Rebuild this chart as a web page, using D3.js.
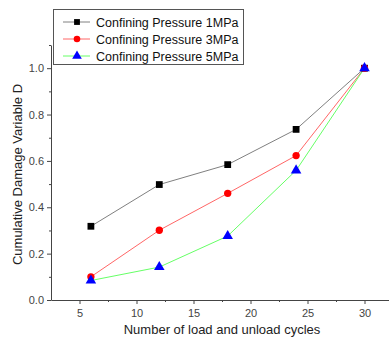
<!DOCTYPE html>
<html>
<head>
<meta charset="utf-8">
<script src="https://cdn.jsdelivr.net/npm/d3@7/dist/d3.min.js"></script>
<style>
  html, body { margin: 0; padding: 0; background: #fff; }
  svg { display: block; font-family: "Liberation Sans", Arial, sans-serif; }
</style>
</head>
<body>
<div id="chart"></div>
<script>
// Load/unload cycle counts and cumulative damage for each confining pressure
const cycles = [6, 12, 18, 24, 30];
const damage1MPa = [0.318, 0.498, 0.584, 0.736, 1.0];
const damage3MPa = [0.100, 0.301, 0.460, 0.623, 1.0];
const damage5MPa = [0.084, 0.142, 0.276, 0.559, 1.0];
const seriesNames = ["Confining Pressure 1MPa", "Confining Pressure 3MPa", "Confining Pressure 5MPa"];
const xTicks = [5, 10, 15, 20, 25, 30];
const yTicks = [0.0, 0.2, 0.4, 0.6, 0.8, 1.0];

const W = 389, H = 342;
const margin = { left: 51, top: 45, bottom: 42 };

const series = [
  { name: seriesNames[0], values: damage1MPa, line: "#808080", fill: "#000000", shape: d3.symbolSquare },
  { name: seriesNames[1], values: damage3MPa, line: "#ff6666", fill: "#ff0000", shape: d3.symbolCircle },
  { name: seriesNames[2], values: damage5MPa, line: "#66ff66", fill: "#0000ff", shape: d3.symbolTriangle }
];

const svg = d3.select("#chart").append("svg").attr("width", W).attr("height", H);

const x = d3.scaleLinear().domain([2.5, 32.5]).range([margin.left, margin.left + 57 * 6]);
const y = d3.scaleLinear().domain([0, 1.1]).range([H - margin.bottom, margin.top]);

const axisColor = "#444";

// Bottom axis with major and minor ticks
const xAxisG = svg.append("g").attr("transform", `translate(0,${y(0)})`);
xAxisG.call(d3.axisBottom(x).tickValues(xTicks).tickSize(4).tickSizeOuter(0).tickFormat(d3.format("d")));
xAxisG.append("g").call(d3.axisBottom(x).tickValues([7.5, 12.5, 17.5, 22.5, 27.5]).tickSize(2).tickSizeOuter(0).tickFormat(""))
  .select(".domain").remove();

// Left axis with major and minor ticks
const yAxisG = svg.append("g").attr("transform", `translate(${x(2.5)},0)`);
yAxisG.call(d3.axisLeft(y).tickValues(yTicks).tickSize(4).tickSizeOuter(0).tickFormat(d3.format(".1f")));
yAxisG.append("g").call(d3.axisLeft(y).tickValues([0.1, 0.3, 0.5, 0.7, 0.9, 1.1]).tickSize(2).tickSizeOuter(0).tickFormat(""))
  .select(".domain").remove();

svg.selectAll(".domain, .tick line").attr("stroke", axisColor).attr("stroke-width", 1);
svg.selectAll(".tick text").attr("fill", "#444").style("font-size", "11px").style("font-family", "Liberation Sans, Arial, sans-serif");
xAxisG.selectAll(".tick text").attr("dy", "0.9em");

// Axis titles
svg.append("text")
  .attr("x", 222).attr("y", 334)
  .attr("text-anchor", "middle")
  .attr("fill", "#222")
  .style("font-size", "13px")
  .text("Number of load and unload cycles");

svg.append("text")
  .attr("transform", `translate(22,${(y(0) + y(1.1)) / 2 + 2}) rotate(-90)`)
  .attr("text-anchor", "middle")
  .attr("fill", "#222")
  .style("font-size", "13px")
  .text("Cumulative Damage Variable D");

// Series lines and markers
const lineGen = d3.line().x((d, i) => x(cycles[i])).y(d => y(d));
series.forEach(s => {
  svg.append("path")
    .attr("d", lineGen(s.values))
    .attr("fill", "none")
    .attr("stroke", s.line)
    .attr("stroke-width", 1);
});
series.forEach(s => {
  svg.selectAll(null).data(s.values).enter().append("path")
    .attr("d", d3.symbol().type(s.shape).size(s.shape === d3.symbolTriangle ? 48 : (s.shape === d3.symbolCircle ? 42 : 46)))
    .attr("transform", (d, i) => `translate(${x(cycles[i])},${y(d)})`)
    .attr("fill", s.fill);
});

// Legend
const lg = svg.append("g");
lg.append("rect").attr("x", 53.5).attr("y", 9.5).attr("width", 190).attr("height", 55)
  .attr("fill", "#fff").attr("stroke", "#555").attr("stroke-width", 1);
series.forEach((s, i) => {
  const ry = 22 + i * 17;
  lg.append("line").attr("x1", 63).attr("x2", 90).attr("y1", ry).attr("y2", ry)
    .attr("stroke", s.line).attr("stroke-width", 1);
  lg.append("path")
    .attr("d", d3.symbol().type(s.shape).size(s.shape === d3.symbolTriangle ? 40 : 34))
    .attr("transform", `translate(77,${ry})`)
    .attr("fill", s.fill);
  lg.append("text").attr("x", 96).attr("y", ry + 4.5)
    .attr("fill", "#111")
    .style("font-size", "12.5px")
    .text(s.name);
});
</script>
</body>
</html>
